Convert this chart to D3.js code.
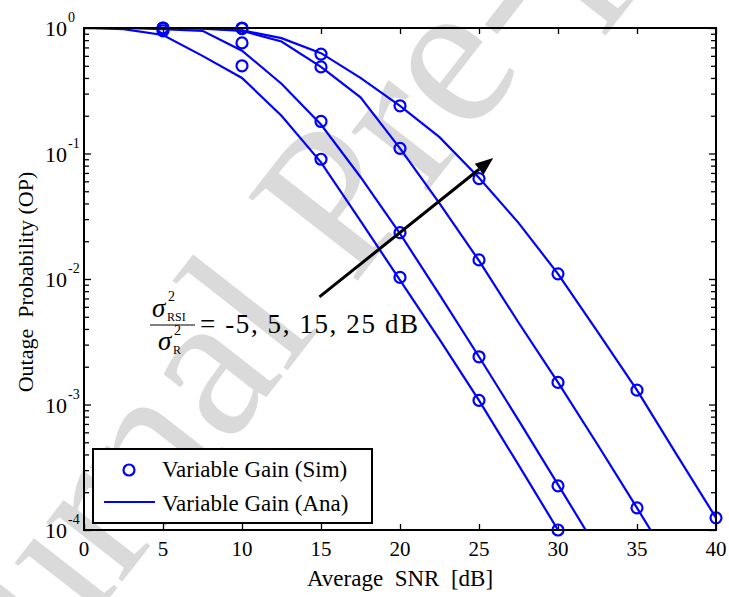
<!DOCTYPE html>
<html>
<head>
<meta charset="utf-8">
<script src="https://cdn.jsdelivr.net/npm/d3@7"></script>
<style>
body { margin: 0; background: #fff; }
text { font-family: "Liberation Serif", "Times New Roman", serif; }
</style>
</head>
<body>
<div id="chart"></div>
<script>
var svgW = 729;
var svgH = 597;
var margin = { left: 84, right: 13, top: 28, bottom: 67 };
var chartW = svgW - margin.left - margin.right;
var chartH = svgH - margin.top - margin.bottom;

// simulated points (circles)
var simX = [5, 10, 15, 20, 25, 30, 35, 40];
var simM5 = [0.95, 0.5, 0.09, 0.0103, 0.00108, 0.0001];
var sim5 = [0.99, 0.76, 0.18, 0.0234, 0.0024, 0.000225];
var sim15 = [1.0, 0.99, 0.49, 0.11, 0.0142, 0.0015, 0.00015];
var sim25 = [1.0, 1.0, 0.62, 0.24, 0.063, 0.011, 0.0013, 0.000125];

// analytical curves (lines)
var anaX = [0, 2.5, 5, 7.5, 10, 12.5, 15, 17.5, 20, 22.5, 25, 27.5, 30, 32.5, 35, 37.5, 40];
var anaM5 = [1.0, 0.98, 0.88, 0.6, 0.4, 0.2, 0.085, 0.029, 0.0098, 0.0033, 0.00108, 0.00033, 0.0001];
var ana5 = [1.0, 1.0, 0.98, 0.95, 0.66, 0.36, 0.17, 0.065, 0.023, 0.0075, 0.0024, 0.00075, 0.00023, 0.00007];
var ana15 = [1.0, 1.0, 1.0, 0.99, 0.95, 0.78, 0.49, 0.28, 0.11, 0.04, 0.014, 0.0045, 0.0015, 0.00048, 0.00015, 0.000046];
var ana25 = [1.0, 1.0, 1.0, 0.995, 0.96, 0.83, 0.63, 0.4, 0.24, 0.135, 0.064, 0.028, 0.011, 0.0038, 0.0013, 0.0004, 0.000125];

var xTicks = [0, 5, 10, 15, 20, 25, 30, 35, 40];
var yDecades = [0, -1, -2, -3, -4];

// arrow annotation in data units [snr, op]
var arrowFrom = [14.9, 0.0072];
var arrowTo = [25.9, 0.092];

var blue = "#0000ff";

var svg = d3.select("#chart")
    .append("svg")
    .attr("width", svgW)
    .attr("height", svgH);

// faint watermark behind everything
svg.append("text")
    .attr("transform", "translate(-60, 815) rotate(-52)")
    .attr("font-size", 210)
    .attr("fill", "#dadada")
    .text("Journal Pre-proof");

var g = svg.append("g")
    .attr("transform", `translate(${margin.left}, ${margin.top})`);

var xScale = d3.scaleLinear().domain([0, 40]).range([0, chartW]);
var yScale = d3.scaleLog().domain([1e-4, 1]).range([chartH, 0]);

g.append("defs").append("clipPath").attr("id", "clip")
    .append("rect").attr("width", chartW).attr("height", chartH);

// ticks (inward, all four sides)
var minor = [];
yDecades.slice(1).forEach(e => {
    for (var k = 2; k <= 9; k++) minor.push(k * Math.pow(10, e));
});
var majors = yDecades.map(e => Math.pow(10, e));
var leftAxis = d3.axisLeft(yScale).tickValues(majors).tickSize(-7).tickFormat("");
var leftMinor = d3.axisLeft(yScale).tickValues(minor).tickSize(-5).tickFormat("");
var rightAxis = d3.axisRight(yScale).tickValues(majors).tickSize(-7).tickFormat("");
var rightMinor = d3.axisRight(yScale).tickValues(minor).tickSize(-5).tickFormat("");
var bottomAxis = d3.axisBottom(xScale).tickValues(xTicks).tickSize(-6).tickFormat("");
var topAxis = d3.axisTop(xScale).tickValues(xTicks).tickSize(-6).tickFormat("");

g.append("g").call(leftAxis);
g.append("g").call(leftMinor);
g.append("g").attr("transform", `translate(${chartW},0)`).call(rightAxis);
g.append("g").attr("transform", `translate(${chartW},0)`).call(rightMinor);
g.append("g").attr("transform", `translate(0,${chartH})`).call(bottomAxis);
g.append("g").call(topAxis);
g.selectAll(".domain").remove();
g.selectAll(".tick line").attr("stroke", "#000").attr("stroke-width", 1.3);

// tick labels
g.selectAll(".xlab")
    .data(xTicks)
    .enter()
    .append("text")
    .attr("x", d => xScale(d))
    .attr("y", chartH + 26)
    .attr("text-anchor", "middle")
    .attr("font-size", 21)
    .text(d => d);

yDecades.forEach(e => {
    var y = yScale(Math.pow(10, e));
    g.append("text").attr("x", -17).attr("y", y + 8)
        .attr("text-anchor", "end").attr("font-size", 22).text("10");
    g.append("text").attr("x", -16).attr("y", y - 6)
        .attr("font-size", 14).text(e === 0 ? "0" : "-" + (-e));
});

// analytical lines
var line = d3.line()
    .x(d => xScale(d[0]))
    .y(d => yScale(d[1]));

var plot = g.append("g").attr("clip-path", "url(#clip)");
[anaM5, ana5, ana15, ana25].forEach(vals => {
    plot.append("path")
        .datum(vals.map((v, i) => [anaX[i], v]))
        .attr("fill", "none")
        .attr("stroke", blue)
        .attr("stroke-width", 2.2)
        .attr("d", line);
});

// simulated circles
[simM5, sim5, sim15, sim25].forEach(vals => {
    g.append("g").selectAll("circle")
        .data(vals.map((v, i) => [simX[i], v]))
        .enter()
        .append("circle")
        .attr("cx", d => xScale(d[0]))
        .attr("cy", d => yScale(d[1]))
        .attr("r", 5.5)
        .attr("fill", "none")
        .attr("stroke", blue)
        .attr("stroke-width", 2.2);
});

// box
g.append("rect")
    .attr("width", chartW)
    .attr("height", chartH)
    .attr("fill", "none")
    .attr("stroke", "#000")
    .attr("stroke-width", 2);

// arrow
var ax1 = xScale(arrowFrom[0]), ay1 = yScale(arrowFrom[1]);
var ax2 = xScale(arrowTo[0]), ay2 = yScale(arrowTo[1]);
var ang = Math.atan2(ay2 - ay1, ax2 - ax1);
var hl = 18, hw = 7;
var bx = ax2 - hl * Math.cos(ang), by = ay2 - hl * Math.sin(ang);
g.append("line")
    .attr("x1", ax1).attr("y1", ay1)
    .attr("x2", bx).attr("y2", by)
    .attr("stroke", "#000")
    .attr("stroke-width", 3);
g.append("path")
    .attr("d", `M${ax2},${ay2}L${bx - hw * Math.sin(ang)},${by + hw * Math.cos(ang)}L${bx + hw * Math.sin(ang)},${by - hw * Math.cos(ang)}Z`)
    .attr("fill", "#000");

// annotation: fraction = values
var ann = svg.append("g").attr("transform", "translate(150, 325)");
ann.append("line").attr("x1", 0).attr("x2", 45).attr("y1", 0).attr("y2", 0)
    .attr("stroke", "#000").attr("stroke-width", 1.2);
ann.append("text").attr("x", 2).attr("y", -8).attr("font-size", 27)
    .attr("font-style", "italic").text("σ");
ann.append("text").attr("x", 18).attr("y", -24).attr("font-size", 14).text("2");
ann.append("text").attr("x", 17).attr("y", -4).attr("font-size", 12).text("RSI");
ann.append("text").attr("x", 8).attr("y", 25).attr("font-size", 27)
    .attr("font-style", "italic").text("σ");
ann.append("text").attr("x", 24).attr("y", 10).attr("font-size", 14).text("2");
ann.append("text").attr("x", 23).attr("y", 29).attr("font-size", 12).text("R");
ann.append("text").attr("x", 50).attr("y", 8).attr("font-size", 27)
    .attr("textLength", 218)
    .attr("lengthAdjust", "spacing")
    .text("= -5, 5, 15, 25 dB");

// legend
var leg = svg.append("g").attr("transform", "translate(93, 449)");
leg.append("rect").attr("width", 279).attr("height", 74)
    .attr("fill", "#fff").attr("stroke", "#000").attr("stroke-width", 2);
leg.append("circle").attr("cx", 36).attr("cy", 21).attr("r", 5.5)
    .attr("fill", "none").attr("stroke", blue).attr("stroke-width", 2.2);
leg.append("text").attr("x", 69).attr("y", 28).attr("font-size", 23).text("Variable Gain (Sim)");
leg.append("line").attr("x1", 11).attr("x2", 62).attr("y1", 53).attr("y2", 53)
    .attr("stroke", blue).attr("stroke-width", 2.2);
leg.append("text").attr("x", 69).attr("y", 62).attr("font-size", 23).text("Variable Gain (Ana)");

// axis titles
svg.append("text")
    .attr("x", margin.left + chartW / 2)
    .attr("y", 586)
    .attr("text-anchor", "middle")
    .attr("font-size", 23)
    .style("white-space", "pre")
    .text("Average  SNR  [dB]");

svg.append("text")
    .attr("transform", "translate(33, 282) rotate(-90)")
    .attr("text-anchor", "middle")
    .attr("font-size", 22)
    .style("white-space", "pre")
    .text("Outage  Probability (OP)");
</script>
</body>
</html>
